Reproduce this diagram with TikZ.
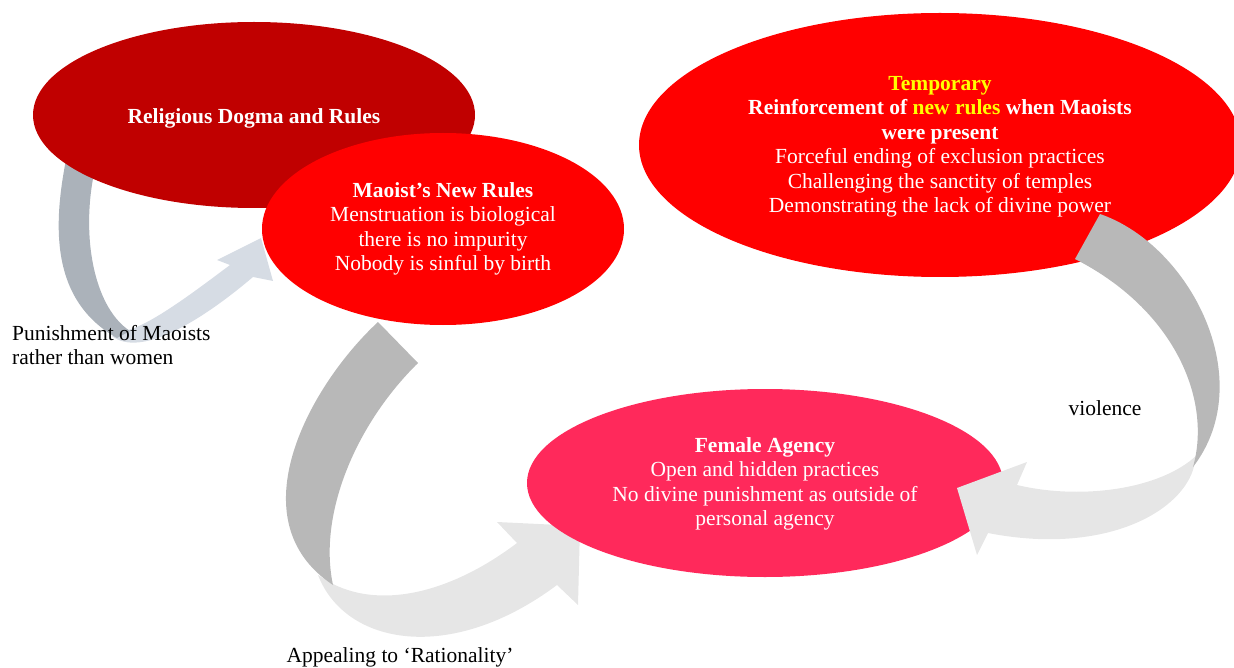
\documentclass[tikz,border=0pt]{standalone}
\usepackage{fontspec}
\setmainfont{Liberation Serif}
\usetikzlibrary{shapes.geometric}

\definecolor{dogmared}{HTML}{C00000}
\definecolor{rulered}{HTML}{FF0000}
\definecolor{agencypink}{HTML}{FF295B}
\definecolor{hiliteyellow}{HTML}{FFFF00}
\definecolor{slateback}{HTML}{ABB2BA}
\definecolor{slatefront}{HTML}{D6DCE4}
\definecolor{greyback}{HTML}{B8B8B8}
\definecolor{greyfront}{HTML}{E6E6E6}

\tikzset{
  txt/.style={font=\fontsize{21.5}{24.5}\selectfont, align=center},
  blob/.style={ellipse, inner sep=0pt},
  inside/.style={txt, text=white},
  caption/.style={txt, text=black},
}

\begin{document}
\begin{tikzpicture}[x=1pt,y=-1pt]
\useasboundingbox (0,0) rectangle (1234,668);

% ---- curved arrow: punishment loop (left) ----
\coordinate (pt)  at (261,238);
\coordinate (pb1) at (217,260);
\coordinate (pb2) at (273,281);
% front (light) half with its head
\fill[slatefront] (112,336) .. controls (140,358) and (200,322) .. (253,277)
  -- (pb2) -- (pt) -- (pb1) -- (230,265)
  .. controls (190,295) and (150,325) .. (125,331) -- cycle;
% back (dark) half
\fill[slateback] (68,150) .. controls (52,225) and (50,300) .. (117,338)
  -- (130,331) .. controls (90,305) and (78,220) .. (100,150) -- cycle;

% ---- curved arrow: appealing to rationality (middle) ----
\coordinate (rt)  at (580,526);
\coordinate (rb1) at (497,522);
\coordinate (rb2) at (578,605);
\fill[greyfront] (318,575) .. controls (345,645) and (450,665) .. (557,585)
  -- (rb2) -- (rt) -- (rb1) -- (517,543)
  .. controls (455,590) and (385,610) .. (333,584) -- cycle;
\fill[greyback] (378,322) .. controls (310,385) and (235,520) .. (333,585)
  .. controls (318,515) and (355,425) .. (418,363) -- cycle;

% ---- ellipses ----
\node[blob, fill=dogmared, minimum width=442, minimum height=186] (dogma) at (254,115) {};
\node[inside, yshift=-3pt] (dogmatext) at (dogma.center)
  {\textbf{Religious Dogma and Rules}};

\node[blob, fill=rulered, minimum width=362, minimum height=192] (maoist) at (443,229) {};
\node[inside] (maoisttext) at (maoist.center)
  {\textbf{Maoist’s New Rules}\\Menstruation is biological\\there is no impurity\\Nobody is sinful by birth};

\node[blob, fill=agencypink, minimum width=476, minimum height=188] (agency) at (765,483) {};
\node[inside, yshift=-1pt] (agencytext) at (agency.center)
  {\textbf{Female Agency}\\Open and hidden practices\\No divine punishment as outside of\\personal agency};

\node[blob, fill=rulered, minimum width=602, minimum height=264] (temporary) at (940,145) {};
\node[inside, yshift=-2pt] (temporarytext) at (temporary.center)
  {\textbf{\textcolor{hiliteyellow}{Temporary}}\\
   \textbf{Reinforcement of \textcolor{hiliteyellow}{new rules} when Maoists}\\
   \textbf{were present}\\
   Forceful ending of exclusion practices\\
   Challenging the sanctity of temples\\
   Demonstrating the lack of divine power};

% ---- curved arrow: violence (right) ----
\coordinate (vt)  at (957,488);
\coordinate (vb1) at (1027,462);
\coordinate (vb2) at (977,555);
\fill[greyfront] (1197,455) -- (1193,470)
  .. controls (1178,515) and (1100,555) .. (988,533)
  -- (vb2) -- (vt) -- (vb1) -- (1017,485)
  .. controls (1080,500) and (1160,490) .. (1197,455) -- cycle;
\fill[greyback] (1100,214) .. controls (1190,245) and (1260,380) .. (1193,467)
  .. controls (1212,400) and (1175,310) .. (1075,259) -- cycle;

% ---- arrow captions ----
\node[caption, align=left, anchor=west, inner sep=0pt] (punish) at (12,345)
  {Punishment of Maoists\\rather than women};
\node[caption] (appeal) at (400,657) {Appealing to ‘Rationality’};
\node[caption] (violence) at (1105,408) {violence};

\end{tikzpicture}
\end{document}
